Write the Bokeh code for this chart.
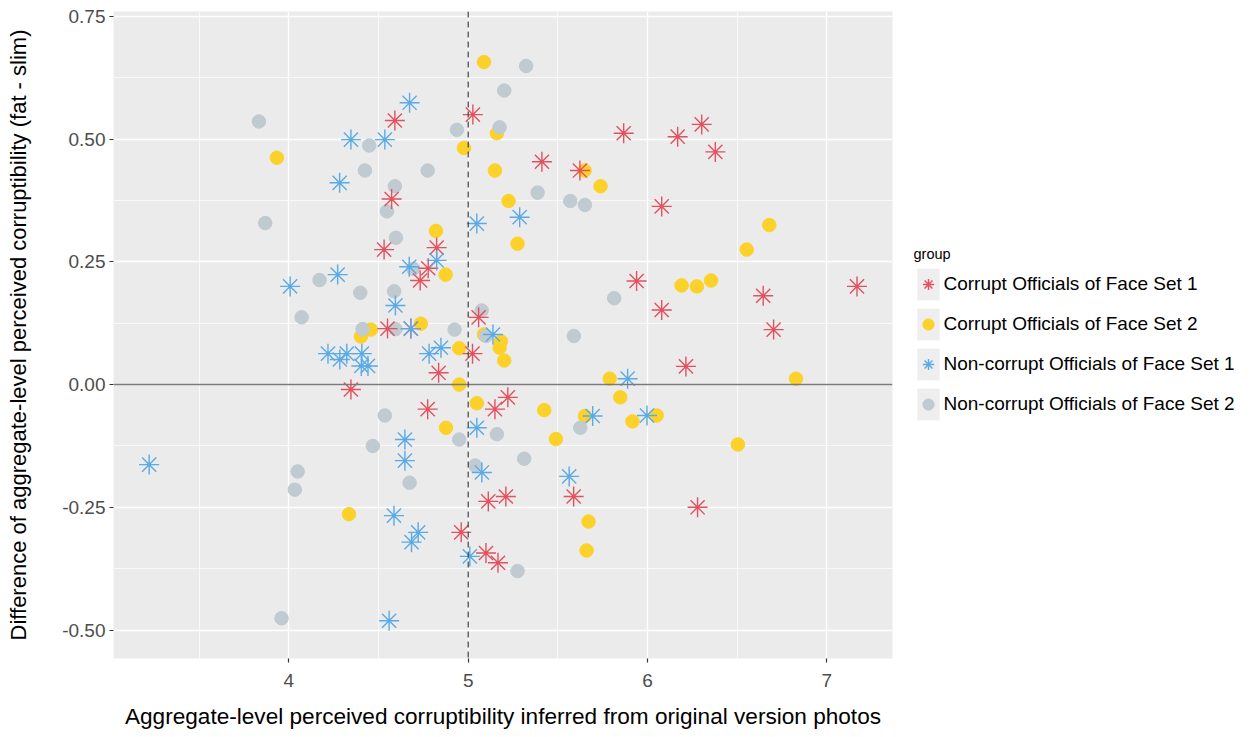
from bokeh.plotting import figure
from bokeh.models import Range1d, FixedTicker, NumeralTickFormatter, Span, Legend, LegendItem
from bokeh.embed import file_html
from bokeh.resources import INLINE

# ---- data ----
c1_x = [4.591, 5.026, 5.411, 5.623, 5.867, 6.168, 6.302, 6.378, 6.079, 4.573,
        4.531, 4.824, 4.777, 4.732, 5.939, 6.079, 6.645, 7.168, 6.703, 6.214,
        4.550, 4.680, 5.058, 5.024, 4.835, 4.346, 4.774, 5.149, 5.221, 5.112,
        5.210, 5.588, 6.279, 4.961, 5.099, 5.166]
c1_y = [0.538, 0.550, 0.454, 0.436, 0.512, 0.505, 0.530, 0.474, 0.363, 0.378,
        0.275, 0.279, 0.237, 0.212, 0.211, 0.152, 0.181, 0.200, 0.112, 0.037,
        0.114, 0.114, 0.137, 0.063, 0.024, -0.010, -0.050, -0.050, -0.026, -0.238,
        -0.228, -0.228, -0.250, -0.301, -0.343, -0.363]

c2_x = [5.088, 3.933, 4.976, 5.160, 5.149, 5.649, 5.738, 5.225, 4.820, 5.275,
        6.679, 6.553, 4.874, 6.190, 6.275, 6.354, 4.457, 4.402, 4.736, 5.088,
        5.182, 5.175, 5.201, 4.950, 4.950, 5.789, 6.828, 5.848, 5.048, 5.424,
        5.651, 5.916, 6.051, 4.876, 5.489, 6.504, 4.335, 5.671, 5.660]
c2_y = [0.657, 0.462, 0.482, 0.512, 0.436, 0.436, 0.404, 0.374, 0.313, 0.287,
        0.325, 0.275, 0.224, 0.202, 0.200, 0.212, 0.112, 0.098, 0.124, 0.102,
        0.088, 0.075, 0.049, 0.074, 0.000, 0.012, 0.012, -0.026, -0.038, -0.052,
        -0.064, -0.075, -0.063, -0.088, -0.111, -0.122, -0.264, -0.279, -0.338]

n1_x = [4.673, 4.535, 4.346, 4.283, 5.287, 5.048, 4.824, 4.671, 4.272, 4.007,
        4.594, 4.680, 5.138, 4.848, 4.782, 4.218, 4.284, 4.323, 4.407, 4.404,
        4.441, 5.889, 5.694, 5.997, 5.048, 4.647, 4.647, 3.221, 5.076, 5.563,
        4.586, 4.721, 4.684, 5.009, 4.559]
n1_y = [0.574, 0.499, 0.499, 0.411, 0.341, 0.328, 0.253, 0.240, 0.224, 0.200,
        0.161, 0.114, 0.102, 0.075, 0.063, 0.063, 0.051, 0.063, 0.063, 0.038,
        0.038, 0.012, -0.064, -0.063, -0.088, -0.112, -0.155, -0.163, -0.179, -0.187,
        -0.267, -0.301, -0.321, -0.350, -0.481]

n2_x = [5.323, 5.201, 3.833, 4.937, 5.175, 4.448, 4.424, 4.774, 4.591, 4.547,
        5.387, 5.569, 5.651, 3.868, 4.597, 4.693, 4.171, 4.398, 4.587, 5.814,
        4.071, 4.411, 4.594, 4.924, 5.075, 5.099, 5.589, 4.535, 5.625, 5.160,
        4.950, 4.468, 5.312, 5.039, 4.673, 4.049, 4.033, 5.275, 3.959]
n2_y = [0.649, 0.599, 0.536, 0.519, 0.524, 0.487, 0.436, 0.436, 0.404, 0.353,
        0.391, 0.374, 0.366, 0.329, 0.299, 0.236, 0.213, 0.187, 0.190, 0.176,
        0.137, 0.113, 0.113, 0.112, 0.151, 0.099, 0.099, -0.063, -0.088, -0.101,
        -0.112, -0.125, -0.151, -0.165, -0.200, -0.177, -0.214, -0.380, -0.476]

group_labels = ["Corrupt Officials of Face Set 1", "Corrupt Officials of Face Set 2",
                "Non-corrupt Officials of Face Set 1", "Non-corrupt Officials of Face Set 2"]
x_ticks = [4, 5, 6, 7]
y_ticks = [-0.5, -0.25, 0.0, 0.25, 0.5, 0.75]

RED = "#E3505E"
YEL = "#FCD22A"
BLU = "#5AAAE6"
GRY = "#BFCBD1"
FONT = "Liberation Sans"

p = figure(frame_width=779, frame_height=647,
           x_range=Range1d(3.022, 7.366), y_range=Range1d(-0.558, 0.760),
           output_backend="svg", toolbar_location=None,
           min_border_left=113, min_border_right=355, min_border_top=11, min_border_bottom=76,
           background_fill_color="#EBEBEB", border_fill_color="white",
           outline_line_color=None)

p.xaxis.ticker = FixedTicker(ticks=x_ticks, minor_ticks=[3.5, 4.5, 5.5, 6.5])
p.yaxis.ticker = FixedTicker(ticks=y_ticks, minor_ticks=[-0.375, -0.125, 0.125, 0.375, 0.625])
p.yaxis.formatter = NumeralTickFormatter(format="0.00")

for g in (p.xgrid, p.ygrid):
    g.grid_line_color = "white"
    g.grid_line_width = 1.4
    g.minor_grid_line_color = "white"
    g.minor_grid_line_width = 0.7

for ax in (p.xaxis, p.yaxis):
    ax.axis_line_color = None
    ax.major_tick_in = 0
    ax.major_tick_out = 4
    ax.major_tick_line_color = "#333333"
    ax.major_tick_line_width = 1.2
    ax.minor_tick_in = 0
    ax.minor_tick_out = 0
    ax.major_label_text_font = FONT
    ax.major_label_text_font_size = "19px"
    ax.major_label_text_color = "#4D4D4D"
    ax.axis_label_text_font = FONT
    ax.axis_label_text_font_style = "normal"
    ax.axis_label_text_color = "#000000"

p.xaxis.axis_label = "Aggregate-level perceived corruptibility inferred from original version photos"
p.yaxis.axis_label = "Difference of aggregate-level perceived corruptibility (fat - slim)"
p.xaxis.axis_label_text_font_size = "22.6px"
p.yaxis.axis_label_text_font_size = "22px"
p.xaxis.major_label_standoff = 11
p.yaxis.major_label_standoff = 4
p.xaxis.axis_label_standoff = 14
p.yaxis.axis_label_standoff = 28

p.add_layout(Span(location=0, dimension="width", line_color="#7A7A7A", line_width=1.5))
p.add_layout(Span(location=5, dimension="height", line_color="#3F3F3F", line_width=1.2,
                  line_dash="6 4"))

# zero-size helper rect (invisible in the plot); its legend glyph paints the grey key boxes
key_bg = p.rect(x=c1_x[:1], y=c1_y[:1], width=0, height=0,
                fill_color="#EEEEEE", line_color=None)

r_c2 = p.scatter(c2_x, c2_y, marker="circle", size=13.5, fill_color=YEL, line_color=YEL)
r_n2 = p.scatter(n2_x, n2_y, marker="circle", size=13.5, fill_color=GRY, line_color=GRY)
r_c1 = p.scatter(c1_x, c1_y, marker="asterisk", size=20, line_color=RED, line_width=1.4)
r_n1 = p.scatter(n1_x, n1_y, marker="asterisk", size=20, line_color=BLU, line_width=1.4)

legend = Legend(items=[
    LegendItem(label=group_labels[0], renderers=[key_bg, r_c1]),
    LegendItem(label=group_labels[1], renderers=[key_bg, r_c2]),
    LegendItem(label=group_labels[2], renderers=[key_bg, r_n1]),
    LegendItem(label=group_labels[3], renderers=[key_bg, r_n2]),
], location=(21.5, 234))
legend.title = "group"
legend.title_text_font = FONT
legend.title_text_font_size = "14.5px"
legend.title_text_font_style = "normal"
legend.title_text_color = "#000000"
legend.title_standoff = 2
legend.label_text_font = FONT
legend.label_text_font_size = "19px"
legend.label_text_color = "#000000"
legend.label_standoff = 2
legend.glyph_width = 28
legend.glyph_height = 40
legend.label_height = 38
legend.spacing = 0
legend.padding = 0
legend.margin = 0
legend.border_line_color = None
legend.background_fill_alpha = 0
p.add_layout(legend, "right")

open("out.html", "w").write(file_html(p, INLINE))
